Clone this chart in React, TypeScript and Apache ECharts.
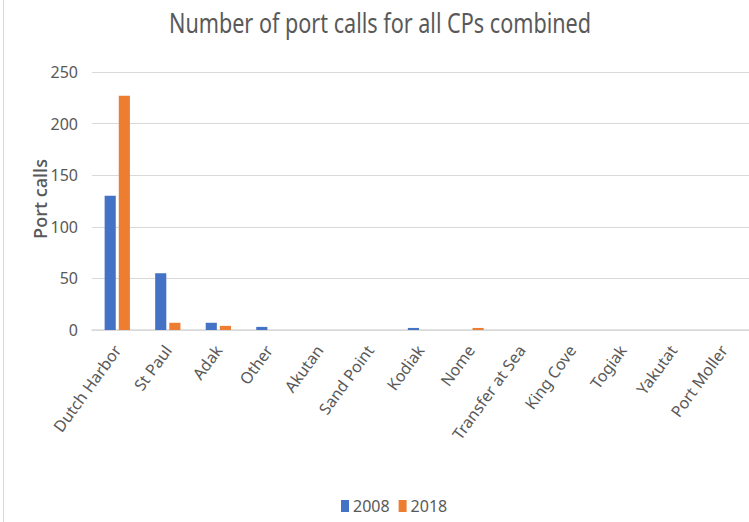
import React, { useEffect, useRef } from "react";
import * as echarts from "echarts";

const categories = [
  "Dutch Harbor",
  "St Paul",
  "Adak",
  "Other",
  "Akutan",
  "Sand Point",
  "Kodiak",
  "Nome",
  "Transfer at Sea",
  "King Cove",
  "Togiak",
  "Yakutat",
  "Port Moller",
];
const values2008 = [130, 55, 7, 3, 0, 0, 2, 0, 0, 0, 0, 0, 0];
const values2018 = [227, 7, 4, 0, 0, 0, 0, 2, 0, 0, 0, 0, 0];
const yTicks = { min: 0, max: 250, interval: 50 };
const titleText = "Number of port calls for all CPs combined";
const yAxisName = "Port calls";

const FONT = "'Noto Sans', sans-serif";
const GRAY = "#595959";

export default function App() {
  const ref = useRef<HTMLDivElement>(null);
  useEffect(() => {
    if (!ref.current) return;
    const chart = echarts.init(ref.current, undefined, { renderer: "svg" });
    chart.setOption({
      animation: false,
      backgroundColor: "#ffffff",
      textStyle: { fontFamily: FONT },
      graphic: [
        {
          type: "line",
          shape: { x1: 3.5, y1: 0, x2: 3.5, y2: 522 },
          style: { stroke: "#d9d9d9", lineWidth: 1 },
        },
        {
          type: "group",
          x: 380,
          y: 9,
          scaleX: 0.8,
          children: [
            {
              type: "text",
              style: {
                text: titleText,
                x: 0,
                y: 0,
                align: "center",
                verticalAlign: "top",
                fontFamily: FONT,
                fontSize: 27,
                fill: GRAY,
              },
            },
          ],
        },
        {
          type: "text",
          x: 40,
          y: 199,
          rotation: Math.PI / 2,
          style: {
            text: yAxisName,
            x: 0,
            y: 0,
            align: "center",
            verticalAlign: "middle",
            fontFamily: "'Open Sans', sans-serif",
            fontSize: 18,
            fontWeight: 600,
            fill: GRAY,
          },
        },
      ],
      legend: {
        bottom: 3,
        left: 336,
        itemWidth: 8,
        itemHeight: 12,
        itemGap: 9,
        icon: "rect",
        textStyle: { fontFamily: FONT, fontSize: 16, color: GRAY, padding: [0, 0, 0, -1] },
        data: ["2008", "2018"],
      },
      grid: { left: 92, right: 0, top: 72, bottom: 192, containLabel: false },
      xAxis: {
        type: "category",
        data: categories,
        axisLine: { lineStyle: { color: "#d9d9d9", width: 1.5 } },
        axisTick: { show: false },
        axisLabel: {
          rotate: 54,
          interval: 0,
          margin: 17,
          fontFamily: FONT,
          fontSize: 16,
          color: GRAY,
        },
      },
      yAxis: {
        type: "value",
        min: yTicks.min,
        max: yTicks.max,
        interval: yTicks.interval,
        axisLine: { show: false },
        axisTick: { show: false },
        axisLabel: { fontFamily: FONT, fontSize: 16, color: GRAY, margin: 14 },
        splitLine: { lineStyle: { color: "#d9d9d9", width: 1 } },
      },
      series: [
        {
          name: "2008",
          type: "bar",
          data: values2008,
          barGap: "27%",
          barCategoryGap: "50%",
          itemStyle: { color: "#4472C4" },
        },
        {
          name: "2018",
          type: "bar",
          data: values2018,
          itemStyle: { color: "#ED7D31" },
        },
      ],
    });
    return () => chart.dispose();
  }, []);
  return <div ref={ref} style={{ width: 749, height: 522, position: "absolute", left: 0, top: 0 }} />;
}
